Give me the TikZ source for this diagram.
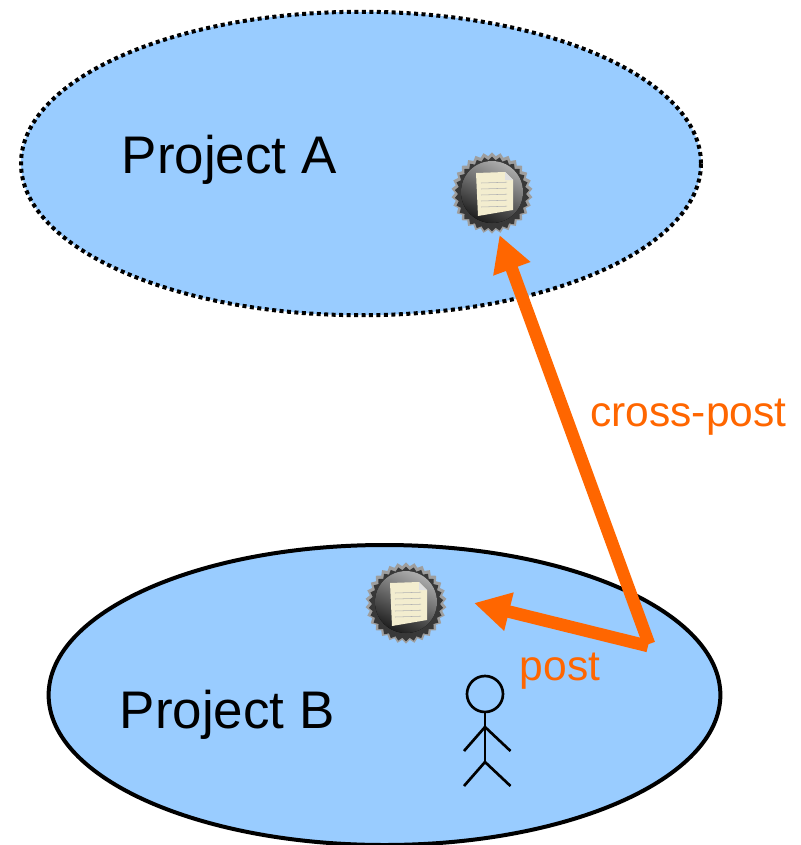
\documentclass[tikz,border=0pt]{standalone}
\usepackage{fontspec}
\setmainfont{Liberation Sans}
\usetikzlibrary{shapes.geometric}
\usetikzlibrary{arrows.meta}
\definecolor{project colour}{HTML}{99CCFF}
\definecolor{post colour}{HTML}{FF6600}
\definecolor{paper colour}{HTML}{F3EDCF}
\tikzset{
    % Both project areas share a fill
    project/.style={
        draw, ellipse, fill=project colour, inner sep=0},
    project name/.style={anchor=base west, inner sep=0, font=\fontsize{39.7}{47}\selectfont},
    post label/.style={anchor=base west, inner sep=0, text=post colour,
        font=\fontsize{31.9}{38}\selectfont},
    post arrow/.style={
        draw=post colour, line width=9.4pt,
        -{Triangle[width=27.75pt, length=27pt]}},
    person/.style={line width=2pt, black},
%
    icon rim/.style={
        star, star points=30, star point ratio=1.1, inner sep=0,
        minimum size=61pt},
%
    pics/doc icon/.style={
        code={
            \node [icon rim, fill=black!38] at (0,0) {};
            \node [icon rim, fill=black!78, minimum size=56pt] at (0,1) {};
            \fill [top color=black!32, bottom color=black!88, shading angle=-25]
                (0,-1) circle (31);
            \fill [paper colour]
                (-16,-20) -- (13,-21) -- (21,-13) -- (21,17) -- (-14,23) -- cycle;
            \fill [black!12] (13,-21) -- (21,-13) -- (13,-13) -- cycle;
            \foreach \y in {-10,-4,2,8,14}
                \draw [black!30, thin] (-11,\y) -- (15,\y-0.8);}},
}

\begin{document}
\begin{tikzpicture}[
    x=0.75pt, y=-0.75pt]

\useasboundingbox (0,0) rectangle (800,845);

\node [project, line width=3pt, dash pattern=on 3pt off 2.6pt,
    minimum width=510pt, minimum height=227.6pt] (project a) at (361,163.5) {};
\node [project, line width=3pt,
    minimum width=503.8pt, minimum height=225pt] (project b) at (384.5,695) {};

\node [project name] (name a) at (121.5,173) {Project A};
\node [project name] (name b) at (119.5,728) {Project B};

\pic at (492,193) {doc icon};
\pic at (406,603) {doc icon};

\coordinate (cross start) at (649,644);
\coordinate (cross tip) at (499.5,235);
\coordinate (post start) at (648,646);
\coordinate (post tip) at (474,603);

\draw [post arrow] (cross start) -- (cross tip);
\draw [post arrow] (post start) -- (post tip);

\node [post label] (cross label) at (590,426) {cross-post};
\node [post label] (post label) at (519.5,680) {post};

% Stick figure
\draw [person] (485,694) circle (18);
\draw [person] (485,712) -- (485,762);
\draw [person] (464,751) -- (485,727) -- (510.5,751);
\draw [person] (464,786) -- (485,762) -- (510.5,786);

\end{tikzpicture}
\end{document}
